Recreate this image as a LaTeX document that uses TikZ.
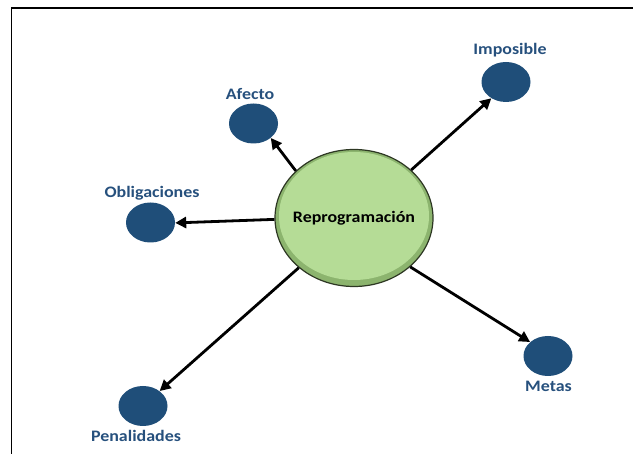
\documentclass[tikz,border=0pt]{standalone}
\usepackage{fontspec}
\setmainfont{Carlito}[FakeStretch=1.12]
\usetikzlibrary{shapes.geometric,arrows.meta}
\definecolor{navy}{RGB}{31,78,121}
\definecolor{lblcol}{RGB}{38,80,125}
\definecolor{gfill}{RGB}{181,220,150}
\definecolor{gdark}{RGB}{140,180,110}
\definecolor{gborder}{RGB}{45,55,35}
\tikzset{
  hub/.style={ellipse, draw=gborder, line width=1.2pt, fill=gdark,
    minimum width=158pt, minimum height=137pt, inner sep=-9pt,
    font=\fontsize{16}{18}\selectfont\bfseries,
    path picture={\fill[gfill] ([yshift=2pt]path picture bounding box.center) ellipse [x radius=75pt, y radius=64pt];}},
  dot/.style={ellipse, fill=navy, minimum width=49pt, minimum height=40pt, inner sep=0pt},
  lbl/.style={text=lblcol, font=\fontsize{16}{18}\selectfont\bfseries, inner sep=0pt},
  arr/.style={line width=2.8pt, -{Triangle[length=11pt,width=11pt]}}
}
\begin{document}
\begin{tikzpicture}[x=1pt,y=-1pt]
\useasboundingbox (0,0) rectangle (633,454);
\draw[line width=1.5pt] (11.5,454) -- (11.5,8) -- (633,8);
\node[hub] (c) at (354,218) {Reprogramación};
\node[dot] (afecto) at (253.5,123.5) {};
\node[dot] (obl) at (150.5,222.5) {};
\node[dot] (imp) at (506,82) {};
\node[dot] (pen) at (143,406) {};
\node[dot] (metas) at (548,356) {};
\node[lbl] (afectoL) at (250,94) {Afecto};
\node[lbl] (oblL) at (152,193) {Obligaciones};
\node[lbl] (impL) at (510,50.5) {Imposible};
\node[lbl] (penL) at (136,436) {Penalidades};
\node[lbl] (metasL) at (548.5,386) {Metas};
\draw[arr] (c.141) -- (afecto.-40);
\draw[arr] (c.181) -- (obl.-1);
\draw[arr] (c.40) -- (imp.-132);
\draw[arr] (c.222) -- (pen.42);
\draw[arr] (c.-41) -- (metas.142);
\end{tikzpicture}
\end{document}
